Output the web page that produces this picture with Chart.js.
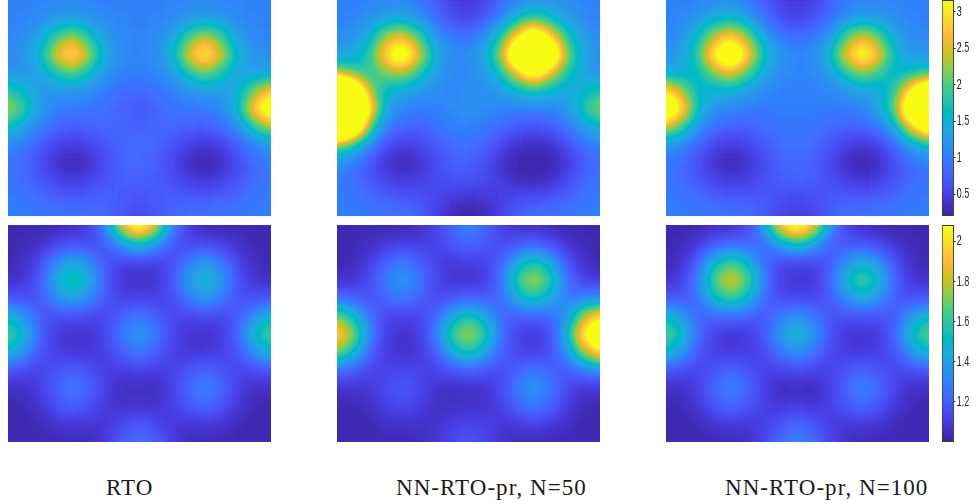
<!DOCTYPE html>
<html><head><meta charset="utf-8">
<script src="https://cdn.jsdelivr.net/npm/chart.js@4"></script>
<style>
html,body{margin:0;padding:0;background:#fff;width:976px;height:504px;overflow:hidden}
canvas{position:absolute;display:block}
.cap{position:absolute;top:475px;font:23px "Liberation Serif",serif;letter-spacing:1.05px;color:#1a1a1a;white-space:nowrap}
</style></head><body>
<div class="cap" style="left:106px">RTO</div>
<div class="cap" style="left:396px">NN-RTO-pr, N=50</div>
<div class="cap" style="left:725px">NN-RTO-pr, N=100</div>
<script>
const columns=[0,1,2,3,4,5,6,7,8,9,10,11,12,13,14,15,16];
const topTicks=[0.5,1,1.5,2,2.5,3];
const bottomTicks=[1.2,1.4,1.6,1.8,2];
const topRange=[0.2,3.16], bottomRange=[1.0,2.08];
const rtoTop=[
[1.00,1.00,1.02,1.04,1.05,1.03,1.01,1.00,1.00,1.00,1.02,1.04,1.05,1.04,1.02,1.00,1.00],
[1.00,1.03,1.09,1.20,1.25,1.16,1.05,1.02,1.00,1.02,1.07,1.19,1.27,1.19,1.07,1.02,1.00],
[1.02,1.08,1.31,1.95,2.35,1.75,1.19,1.05,1.02,1.07,1.27,1.92,2.45,1.92,1.27,1.07,1.02],
[1.06,1.15,1.55,2.60,3.20,2.30,1.30,1.07,1.03,1.11,1.45,2.55,3.35,2.55,1.48,1.15,1.09],
[1.16,1.17,1.30,1.75,2.05,1.60,1.15,1.01,0.98,1.03,1.21,1.72,2.15,1.75,1.30,1.30,1.35],
[1.85,1.55,1.20,1.17,1.16,1.09,0.97,0.86,0.80,0.88,0.99,1.13,1.22,1.22,1.37,2.15,2.75],
[2.40,1.90,1.20,1.01,0.96,0.94,0.86,0.74,0.66,0.74,0.88,0.93,0.97,1.07,1.50,2.85,3.90],
[1.65,1.35,0.97,0.79,0.72,0.76,0.78,0.78,0.76,0.78,0.79,0.75,0.71,0.82,1.09,1.80,2.35],
[1.05,0.92,0.70,0.51,0.42,0.50,0.67,0.79,0.84,0.78,0.65,0.47,0.38,0.49,0.72,1.01,1.20],
[0.93,0.81,0.58,0.35,0.25,0.35,0.58,0.77,0.82,0.76,0.55,0.31,0.20,0.31,0.57,0.81,0.95],
[0.93,0.83,0.67,0.50,0.42,0.50,0.64,0.74,0.73,0.73,0.62,0.47,0.38,0.47,0.65,0.82,0.93],
[0.96,0.91,0.84,0.76,0.72,0.74,0.74,0.67,0.64,0.67,0.73,0.73,0.71,0.75,0.83,0.91,0.96],
[0.97,0.96,0.94,0.92,0.91,0.89,0.80,0.64,0.54,0.64,0.80,0.88,0.90,0.91,0.94,0.96,0.97]];
const nn50Top=[
[1.00,1.00,1.03,1.06,1.05,0.94,0.72,0.48,0.38,0.50,0.78,1.03,1.15,1.13,1.08,1.02,1.00],
[1.00,1.04,1.12,1.32,1.40,1.18,0.85,0.60,0.52,0.68,1.03,1.60,1.93,1.67,1.25,1.08,1.00],
[1.05,1.15,1.44,2.35,2.70,2.00,1.21,0.91,0.88,1.08,1.75,2.90,4.30,2.90,1.85,1.25,1.08],
[1.27,1.35,1.80,3.00,3.90,2.60,1.48,1.10,1.10,1.34,2.20,4.60,6.50,4.60,2.20,1.38,1.11],
[2.30,2.00,1.75,2.15,2.35,1.85,1.23,1.06,1.06,1.20,1.70,2.60,3.60,2.60,1.75,1.29,1.13],
[7.00,4.83,2.29,1.50,1.36,1.20,1.09,1.07,1.10,1.13,1.23,1.52,1.72,1.55,1.33,1.51,1.72],
[8.00,6.50,3.16,1.31,1.04,0.95,0.99,1.08,1.14,1.08,1.03,0.99,1.01,1.04,1.18,1.71,2.30],
[6.50,4.71,2.04,1.01,0.77,0.76,0.87,0.98,1.03,0.96,0.81,0.68,0.64,0.70,0.88,1.24,1.50],
[2.23,1.73,1.07,0.62,0.44,0.50,0.67,0.83,0.86,0.78,0.56,0.33,0.26,0.33,0.59,0.85,1.01],
[1.13,0.96,0.66,0.37,0.25,0.35,0.56,0.74,0.75,0.63,0.34,0.20,0.20,0.20,0.36,0.68,0.88],
[0.96,0.85,0.67,0.50,0.42,0.47,0.56,0.63,0.60,0.58,0.45,0.30,0.26,0.33,0.56,0.78,0.91],
[0.96,0.91,0.84,0.76,0.70,0.66,0.54,0.39,0.33,0.37,0.48,0.58,0.62,0.68,0.78,0.89,0.95],
[0.97,0.96,0.94,0.92,0.88,0.77,0.52,0.24,0.20,0.24,0.51,0.75,0.86,0.90,0.93,0.96,0.98]];
const nn100Top=[
[1.00,1.00,1.04,1.08,1.08,0.96,0.73,0.48,0.38,0.48,0.72,0.94,1.04,1.04,1.02,1.00,1.00],
[1.00,1.05,1.18,1.46,1.57,1.29,0.88,0.60,0.52,0.62,0.86,1.15,1.30,1.22,1.08,1.02,1.00],
[1.04,1.17,1.60,2.40,2.95,2.20,1.34,0.94,0.82,0.91,1.21,2.00,2.60,2.03,1.30,1.08,1.08],
[1.14,1.31,1.85,3.30,4.20,2.90,1.65,1.16,1.05,1.08,1.46,2.70,3.55,2.70,1.55,1.22,1.18],
[1.36,1.41,1.55,2.20,2.60,2.00,1.33,1.08,1.02,1.06,1.24,1.80,2.25,1.87,1.47,1.68,1.87],
[3.05,2.30,1.51,1.46,1.48,1.28,1.08,1.00,1.00,1.00,1.06,1.17,1.31,1.39,1.85,3.20,4.50],
[4.30,3.10,1.57,1.13,1.03,0.96,0.94,0.96,0.97,0.96,0.96,0.97,1.04,1.29,2.10,4.60,6.00],
[2.55,1.90,1.14,0.84,0.75,0.76,0.84,0.91,0.94,0.91,0.83,0.75,0.77,0.93,1.45,2.80,3.90],
[1.21,1.03,0.75,0.52,0.42,0.50,0.67,0.83,0.88,0.82,0.65,0.47,0.38,0.52,0.83,1.30,1.60],
[0.96,0.82,0.60,0.35,0.25,0.35,0.57,0.75,0.81,0.76,0.54,0.31,0.20,0.31,0.60,0.86,1.01],
[0.93,0.83,0.67,0.50,0.42,0.49,0.62,0.72,0.74,0.71,0.60,0.46,0.38,0.47,0.65,0.82,0.94],
[0.96,0.91,0.84,0.76,0.72,0.73,0.69,0.59,0.54,0.58,0.68,0.72,0.71,0.75,0.83,0.91,0.96],
[0.97,0.96,0.94,0.92,0.91,0.86,0.72,0.51,0.43,0.51,0.72,0.85,0.90,0.91,0.94,0.96,0.97]];
const rtoBottom=[
[1.01,1.01,1.01,1.02,1.04,1.09,1.32,1.89,2.25,1.89,1.32,1.07,1.02,1.01,1.01,1.01,1.01],
[1.01,1.02,1.05,1.11,1.15,1.13,1.17,1.39,1.52,1.38,1.17,1.12,1.12,1.10,1.05,1.01,1.01],
[1.01,1.04,1.13,1.32,1.43,1.32,1.16,1.10,1.10,1.10,1.13,1.27,1.37,1.27,1.11,1.04,1.01],
[1.04,1.06,1.18,1.45,1.62,1.45,1.18,1.05,1.04,1.05,1.16,1.39,1.52,1.39,1.16,1.06,1.04],
[1.16,1.15,1.17,1.33,1.43,1.32,1.16,1.10,1.10,1.10,1.13,1.27,1.37,1.28,1.15,1.15,1.16],
[1.48,1.35,1.18,1.13,1.15,1.12,1.12,1.21,1.27,1.20,1.12,1.11,1.12,1.12,1.18,1.34,1.48],
[1.68,1.50,1.21,1.07,1.05,1.06,1.12,1.28,1.38,1.28,1.12,1.06,1.05,1.07,1.21,1.50,1.68],
[1.48,1.34,1.16,1.09,1.07,1.07,1.10,1.20,1.27,1.20,1.10,1.07,1.07,1.09,1.16,1.34,1.48],
[1.16,1.13,1.10,1.16,1.20,1.15,1.09,1.09,1.10,1.09,1.10,1.16,1.22,1.17,1.11,1.13,1.16],
[1.04,1.04,1.09,1.21,1.28,1.21,1.09,1.02,1.04,1.02,1.10,1.23,1.31,1.23,1.10,1.04,1.04],
[1.01,1.02,1.06,1.15,1.20,1.15,1.07,1.06,1.06,1.06,1.09,1.16,1.22,1.16,1.07,1.02,1.01],
[1.01,1.01,1.02,1.06,1.07,1.06,1.07,1.13,1.18,1.13,1.07,1.06,1.07,1.06,1.02,1.01,1.01],
[1.01,1.01,1.01,1.01,1.02,1.02,1.09,1.20,1.26,1.20,1.09,1.02,1.02,1.01,1.01,1.01,1.01]];
const nn50Bottom=[
[1.01,1.01,1.01,1.01,1.02,1.04,1.10,1.23,1.32,1.23,1.10,1.05,1.04,1.02,1.01,1.01,1.01],
[1.01,1.01,1.04,1.07,1.10,1.09,1.10,1.17,1.22,1.18,1.12,1.16,1.20,1.15,1.06,1.02,1.01],
[1.01,1.02,1.09,1.20,1.27,1.20,1.11,1.07,1.09,1.10,1.20,1.43,1.57,1.43,1.17,1.05,1.01],
[1.05,1.06,1.13,1.28,1.38,1.28,1.12,1.05,1.06,1.07,1.24,1.61,1.83,1.61,1.26,1.09,1.07],
[1.24,1.20,1.15,1.22,1.27,1.21,1.13,1.16,1.20,1.18,1.22,1.44,1.57,1.44,1.26,1.28,1.33],
[1.73,1.52,1.24,1.11,1.10,1.11,1.20,1.43,1.57,1.44,1.22,1.18,1.20,1.21,1.35,1.76,2.02],
[2.05,1.77,1.32,1.09,1.05,1.07,1.26,1.61,1.83,1.61,1.26,1.09,1.07,1.12,1.45,2.09,2.47],
[1.73,1.52,1.22,1.07,1.05,1.07,1.17,1.43,1.57,1.43,1.20,1.11,1.10,1.13,1.33,1.74,2.02],
[1.24,1.18,1.11,1.11,1.13,1.11,1.10,1.15,1.20,1.16,1.13,1.21,1.27,1.21,1.17,1.26,1.33],
[1.05,1.05,1.07,1.13,1.18,1.13,1.06,1.04,1.04,1.05,1.12,1.28,1.38,1.28,1.13,1.06,1.06],
[1.01,1.01,1.04,1.10,1.13,1.10,1.04,1.04,1.05,1.05,1.09,1.20,1.27,1.20,1.09,1.02,1.01],
[1.01,1.01,1.01,1.04,1.05,1.04,1.05,1.10,1.12,1.10,1.07,1.07,1.10,1.07,1.04,1.01,1.01],
[1.01,1.01,1.01,1.01,1.01,1.02,1.06,1.12,1.17,1.12,1.06,1.02,1.02,1.01,1.01,1.01,1.01]];
const nn100Bottom=[
[1.01,1.01,1.02,1.04,1.04,1.11,1.37,1.96,2.25,1.96,1.35,1.10,1.04,1.02,1.01,1.01,1.01],
[1.01,1.02,1.07,1.17,1.22,1.21,1.22,1.41,1.56,1.41,1.20,1.16,1.16,1.12,1.05,1.02,1.01],
[1.01,1.05,1.21,1.50,1.64,1.50,1.23,1.12,1.11,1.11,1.17,1.34,1.46,1.34,1.15,1.04,1.01],
[1.05,1.09,1.29,1.68,1.90,1.68,1.29,1.07,1.06,1.05,1.21,1.49,1.67,1.49,1.21,1.06,1.05],
[1.17,1.16,1.24,1.51,1.64,1.50,1.23,1.13,1.12,1.12,1.17,1.34,1.46,1.35,1.18,1.15,1.17],
[1.49,1.38,1.21,1.20,1.22,1.20,1.17,1.27,1.35,1.27,1.15,1.15,1.16,1.15,1.18,1.38,1.49],
[1.71,1.52,1.23,1.09,1.06,1.07,1.17,1.38,1.51,1.38,1.16,1.06,1.06,1.07,1.22,1.52,1.71],
[1.49,1.37,1.16,1.09,1.07,1.09,1.12,1.26,1.35,1.26,1.12,1.09,1.07,1.09,1.16,1.37,1.49],
[1.17,1.13,1.11,1.17,1.22,1.16,1.10,1.11,1.12,1.11,1.10,1.16,1.22,1.17,1.11,1.13,1.17],
[1.04,1.04,1.10,1.23,1.31,1.23,1.10,1.02,1.04,1.02,1.10,1.23,1.31,1.23,1.10,1.04,1.04],
[1.01,1.02,1.07,1.16,1.22,1.16,1.10,1.07,1.09,1.07,1.10,1.16,1.22,1.16,1.07,1.02,1.01],
[1.01,1.01,1.02,1.06,1.07,1.07,1.09,1.17,1.23,1.17,1.09,1.07,1.07,1.06,1.02,1.01,1.01],
[1.01,1.01,1.01,1.01,1.02,1.04,1.11,1.24,1.33,1.24,1.11,1.04,1.02,1.01,1.01,1.01,1.01]];
const parula=[[.2422,.1504,.6603],[.2504,.165,.7076],[.2578,.1818,.7511],[.2647,.1978,.7952],[.2706,.2147,.8364],[.2751,.2342,.871],[.2783,.2559,.8991],[.2803,.2782,.9221],[.2813,.3006,.9414],[.281,.3228,.9579],[.2795,.3447,.9717],[.276,.3667,.9829],[.2699,.3892,.9906],[.2602,.4123,.9952],[.244,.4358,.9988],[.2206,.4603,.9973],[.1963,.4847,.9892],[.1834,.5074,.9798],[.1786,.5289,.9682],[.1764,.5499,.952],[.1687,.5703,.9359],[.154,.5902,.9218],[.146,.6091,.9079],[.138,.6276,.8973],[.1248,.6459,.8883],[.1113,.6635,.8763],[.0952,.6798,.8598],[.0689,.6948,.8394],[.0297,.7082,.8163],[.0036,.7203,.7917],[.0067,.7312,.766],[.0433,.7411,.7394],[.0964,.75,.712],[.1408,.7584,.6842],[.1717,.767,.6554],[.1938,.7758,.6251],[.2161,.7843,.5923],[.247,.7918,.5567],[.2906,.7973,.5188],[.3406,.8008,.4789],[.3909,.8029,.4354],[.4456,.8024,.3909],[.5044,.7993,.348],[.5616,.7942,.3045],[.6174,.7876,.2612],[.672,.7793,.2227],[.7242,.7698,.191],[.7738,.7598,.1646],[.8203,.7498,.1535],[.8634,.7406,.1596],[.9035,.733,.1774],[.9393,.7288,.21],[.9728,.7298,.2394],[.9956,.7434,.2371],[.997,.7659,.2199],[.9952,.7893,.2028],[.9892,.8136,.1885],[.9786,.8386,.1766],[.9676,.8639,.1643],[.961,.889,.1537],[.9597,.9135,.1423],[.9628,.9373,.1265],[.9691,.9606,.1064],[.9769,.9839,.0805]];

function mapColor(t){
  const f=Math.min(1,Math.max(0,t))*(parula.length-1),a=Math.floor(f),b=Math.min(parula.length-1,a+1),w=f-a;
  return [0,1,2].map(c=>255*(parula[a][c]*(1-w)+parula[b][c]*w));
}
function addCanvas(l,t,w,h,cssW){
  const c=document.createElement('canvas');
  c.style.left=l+'px';c.style.top=t+'px';c.style.width=(cssW||w)+'px';c.style.height=h+'px';c.width=w;c.height=h;
  document.body.appendChild(c);return c;
}
/* smooths the drawn cells, then colours them through the colormap */
function smoothPlugin(range,ceil,sigma){
  const lut=[];
  for(let g=0;g<256;g++){const v=range[0]+g/255*(ceil-range[0]);lut.push(mapColor((v-range[0])/(range[1]-range[0])));}
  return {id:'smooth',afterDatasetsDraw(chart){
    const ctx=chart.ctx,W=chart.canvas.width,H=chart.canvas.height,m=30;
    const tmp=document.createElement('canvas');tmp.width=W+2*m;tmp.height=H+2*m;
    const t=tmp.getContext('2d');t.imageSmoothingEnabled=false;
    t.drawImage(chart.canvas,m,m);
    t.drawImage(tmp,m,m,W,1,m,0,W,m);
    t.drawImage(tmp,m,m+H-1,W,1,m,m+H,W,m);
    t.drawImage(tmp,m,0,1,H+2*m,0,0,m,H+2*m);
    t.drawImage(tmp,m+W-1,0,1,H+2*m,m+W,0,m,H+2*m);
    ctx.save();ctx.setTransform(1,0,0,1,0,0);ctx.filter='blur('+sigma+'px)';
    ctx.drawImage(tmp,-m,-m);ctx.filter='none';
    const img=ctx.getImageData(0,0,W,H),d=img.data;
    for(let i=0;i<d.length;i+=4){const c=lut[d[i]];d[i]=c[0];d[i+1]=c[1];d[i+2]=c[2];d[i+3]=255;}
    ctx.putImageData(img,0,0);ctx.restore();
  }};
}
function panel(values,range,ceil,l,t,w,h){
  const shade=v=>{const g=Math.round(255*Math.min(1,Math.max(0,(v-range[0])/(ceil-range[0]))));return 'rgb('+g+','+g+','+g+')';};
  new Chart(addCanvas(l,t,w,h),{
    type:'bar',
    data:{labels:columns,datasets:values.map((row,j)=>({
      data:row.map(()=>[j-0.54,j+0.54]),
      backgroundColor:row.map(shade),borderWidth:0,
      barPercentage:1.08,categoryPercentage:1,grouped:false}))},
    options:{responsive:false,animation:false,devicePixelRatio:1,events:[],
      layout:{padding:0,autoPadding:false},
      plugins:{legend:{display:false},tooltip:{enabled:false}},
      scales:{x:{display:false,offset:false},
              y:{display:false,reverse:true,min:0,max:values.length-1}}},
    plugins:[smoothPlugin(range,ceil,8)]
  });
}
function colorbar(range,ticks,t,h){
  const n=parula.length,step=(range[1]-range[0])/n,k=1.7;
  const cols=parula.map(c=>'rgb('+c.map(x=>Math.round(x*255)).join(',')+')');
  const logical=Math.round(34*k),barW=Math.round(12*k);
  new Chart(addCanvas(942,t,logical,h,34),{
    type:'bar',
    data:{labels:['c'],datasets:cols.map((col,i)=>({
      data:[[range[0]+i*step,range[0]+(i+1)*step+step*0.1]],
      backgroundColor:col,borderWidth:0,barPercentage:1,categoryPercentage:1,grouped:false}))},
    options:{responsive:false,animation:false,devicePixelRatio:1,events:[],
      layout:{padding:0,autoPadding:false},
      plugins:{legend:{display:false},tooltip:{enabled:false}},
      scales:{x:{display:false},
        y:{position:'right',min:range[0],max:range[1],
           afterFit(s){s.width=logical-barW;s.paddingTop=0;s.paddingBottom=0;},
           afterBuildTicks(s){s.ticks=ticks.map(v=>({value:v}));},
           grid:{drawOnChartArea:false,drawTicks:true,tickLength:3,color:'#262626',lineWidth:1},
           border:{display:false},
           ticks:{autoSkip:false,padding:2,color:'#262626',maxRotation:0,
             font:{family:'"Liberation Sans",sans-serif',size:15.5},
             callback:v=>String(v)}}}},
    plugins:[{id:'outline',afterDraw(c){const a=c.chartArea,x=c.ctx;x.save();x.strokeStyle='#3a3a3a';x.lineWidth=1;
      x.strokeRect(a.left+.5,a.top+.5,a.right-a.left-1,a.bottom-a.top-1);x.restore();}}]
  });
}
const topCeil=9,bottomCeil=2.7;
panel(rtoTop,topRange,topCeil,8,0,263,216);
panel(nn50Top,topRange,topCeil,337,0,263,216);
panel(nn100Top,topRange,topCeil,666,0,263,216);
panel(rtoBottom,bottomRange,bottomCeil,8,225,263,217);
panel(nn50Bottom,bottomRange,bottomCeil,337,225,263,217);
panel(nn100Bottom,bottomRange,bottomCeil,666,225,263,217);
colorbar(topRange,topTicks,0,216);
colorbar(bottomRange,bottomTicks,225,217);
</script>
</body></html>
